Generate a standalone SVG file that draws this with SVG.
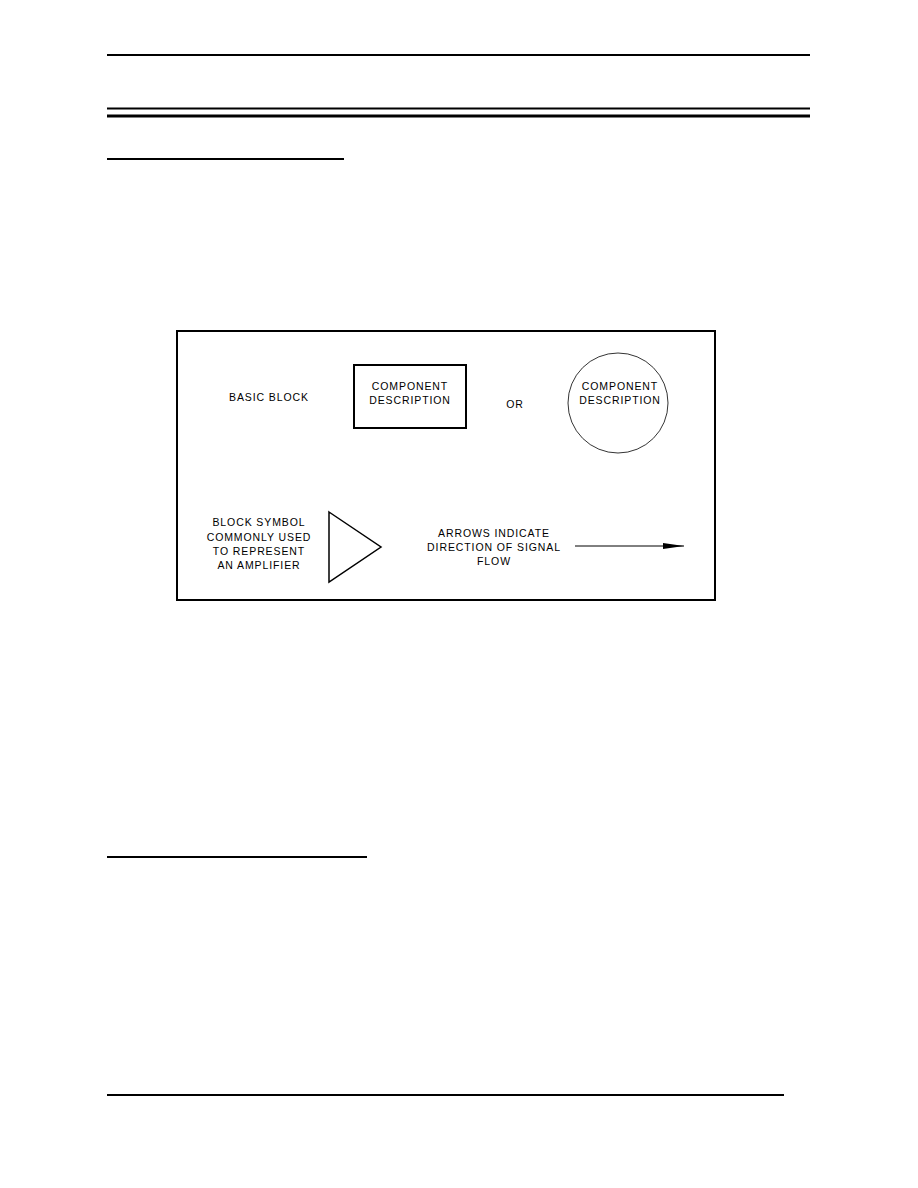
<svg xmlns="http://www.w3.org/2000/svg" width="918" height="1188" viewBox="0 0 918 1188">
<style>
.t{font-family:"Liberation Sans",Arial,sans-serif;font-size:10.5px;fill:#000;letter-spacing:0.9px;text-anchor:middle}
.rule{stroke:#000;fill:none}
</style>
<defs>
<marker id="ah" markerWidth="22" markerHeight="10" refX="21" refY="4.5" orient="auto" markerUnits="userSpaceOnUse">
<path d="M0,1.5 L21,4.5 L0,7.5 Z" fill="#000"/>
</marker>
</defs>
<rect width="918" height="1188" fill="#fff"/>
<g id="page-rules">
<line class="rule" x1="107" y1="55" x2="810" y2="55" stroke-width="2"/>
<line class="rule" x1="107" y1="108.5" x2="810" y2="108.5" stroke-width="2"/>
<line class="rule" x1="107" y1="116" x2="810" y2="116" stroke-width="3"/>
<line class="rule" x1="107" y1="159" x2="344" y2="159" stroke-width="2"/>
<line class="rule" x1="107" y1="857" x2="367" y2="857" stroke-width="2"/>
<line class="rule" x1="107" y1="1095" x2="784" y2="1095" stroke-width="2"/>
</g>
<g id="frame">
<rect x="177" y="331" width="538" height="269" fill="none" stroke="#000" stroke-width="2"/>
</g>
<g id="basic-block-label">
<text class="t" x="269" y="401">BASIC  BLOCK</text>
</g>
<g id="component-box">
<rect x="354" y="365" width="112" height="63" fill="none" stroke="#000" stroke-width="2"/>
<text class="t" x="410" y="390">COMPONENT</text>
<text class="t" x="410" y="404">DESCRIPTION</text>
</g>
<g id="or-label">
<text class="t" x="515" y="408">OR</text>
</g>
<g id="component-circle">
<circle cx="618" cy="403" r="50" fill="none" stroke="#000" stroke-width="0.8"/>
<text class="t" x="620" y="390">COMPONENT</text>
<text class="t" x="620" y="404">DESCRIPTION</text>
</g>
<g id="amplifier-label">
<text class="t" x="259" y="526">BLOCK SYMBOL</text>
<text class="t" x="259" y="541">COMMONLY USED</text>
<text class="t" x="259" y="555">TO REPRESENT</text>
<text class="t" x="259" y="569">AN AMPLIFIER</text>
</g>
<g id="amplifier">
<polygon points="329,512 381,547 329,582" fill="none" stroke="#000" stroke-width="1.5"/>
</g>
<g id="arrow-label">
<text class="t" x="494" y="537">ARROWS INDICATE</text>
<text class="t" x="494" y="551">DIRECTION OF SIGNAL</text>
<text class="t" x="494" y="565">FLOW</text>
</g>
<g id="connectors">
<line x1="575" y1="546" x2="684" y2="546" stroke="#000" stroke-width="1" marker-end="url(#ah)"/>
</g>
</svg>
